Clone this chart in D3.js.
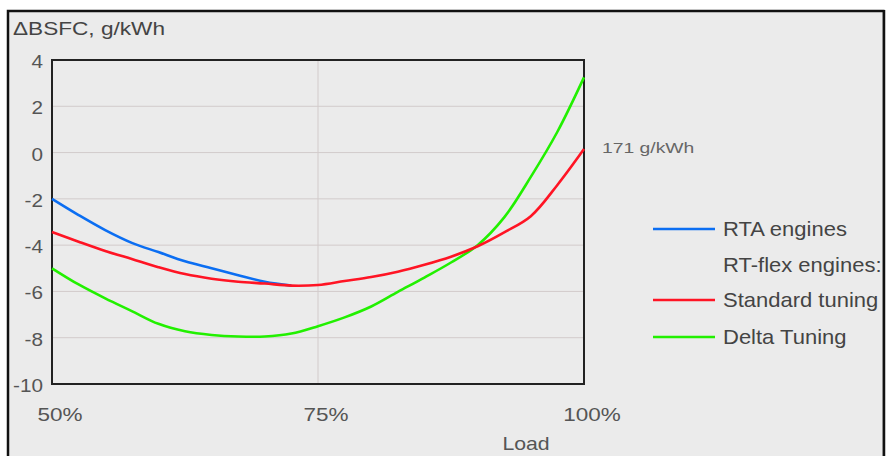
<!DOCTYPE html>
<html>
<head>
<meta charset="utf-8">
<script src="https://cdn.jsdelivr.net/npm/d3@7"></script>
<style>
  body { margin: 0; background: #fff; }
  svg { display: block; font-family: "Liberation Sans", Arial, sans-serif; }
</style>
</head>
<body>
<script>
    //data (load in %, delta BSFC in g/kWh)
    var loads = [50, 52.5, 55, 57.5, 60, 62.5, 65, 67.5, 70, 72.5, 75, 77.5, 80, 82.5, 85, 87.5, 90, 92.5, 95, 97.5, 100];
    var rtaLoads = [50, 52.5, 55, 57.5, 60, 62.5, 65, 67.5, 70, 72.5];
    var rtaValues = [-2.0, -2.7, -3.35, -3.9, -4.3, -4.7, -5.0, -5.3, -5.58, -5.75];
    var standardValues = [-3.43, -3.85, -4.25, -4.6, -4.95, -5.25, -5.45, -5.58, -5.66, -5.75, -5.72, -5.55, -5.38, -5.15, -4.85, -4.5, -4.05, -3.45, -2.75, -1.4, 0.15];
    var deltaValues = [-5.0, -5.7, -6.3, -6.85, -7.4, -7.72, -7.88, -7.95, -7.95, -7.82, -7.5, -7.12, -6.65, -6.02, -5.4, -4.75, -4.0, -2.8, -1.05, 0.9, 3.25];
    var yTicks = [4, 2, 0, -2, -4, -6, -8, -10];
    var xTicks = [50, 75, 100];
    var legendItems = [
        {label: "RTA engines", color: "#0b6ef2"},
        {label: "RT-flex engines:", color: null},
        {label: "Standard tuning", color: "#ff1424"},
        {label: "Delta Tuning", color: "#22f000"}
    ];

    setChart();

    //text in the scan is stretched sideways, so scale it a bit
    function stretched(sel, px, py, sx){
        return sel.attr("transform", function(d, i){
            var xx = typeof px === "function" ? px(d, i) : px,
                yy = typeof py === "function" ? py(d, i) : py;
            return "translate(" + xx + "," + yy + ") scale(" + sx + ",1)";
        });
    }

    function setChart(){
        var width = 886,
            height = 456;

        var svg = d3.select("body")
            .append("svg")
            .attr("width", width)
            .attr("height", height);

        //grey panel with the black frame
        svg.append("rect")
            .attr("x", 8).attr("y", 11)
            .attr("width", 876).attr("height", 460)
            .attr("fill", "#ebebeb")
            .attr("stroke", "#111")
            .attr("stroke-width", 2.5);

        var x = d3.scaleLinear().domain([50, 100]).range([52, 584]);
        var y = d3.scaleLinear().domain([-10, 4]).range([384, 60]);

        //gridlines
        svg.append("g")
            .selectAll("line")
            .data(yTicks.slice(1, -1))
            .enter().append("line")
            .attr("x1", x(50)).attr("x2", x(100))
            .attr("y1", function(d){ return y(d); })
            .attr("y2", function(d){ return y(d); })
            .attr("stroke", "#d2cbcb")
            .attr("stroke-width", 1);

        svg.append("line")
            .attr("x1", x(75)).attr("x2", x(75))
            .attr("y1", y(4)).attr("y2", y(-10))
            .attr("stroke", "#d2cbcb")
            .attr("stroke-width", 1);

        //plot frame
        svg.append("rect")
            .attr("x", x(50)).attr("y", y(4))
            .attr("width", x(100) - x(50))
            .attr("height", y(-10) - y(4))
            .attr("fill", "none")
            .attr("stroke", "#222")
            .attr("stroke-width", 2);

        //y axis labels
        var yLabels = svg.append("g")
            .selectAll("text")
            .data(yTicks)
            .enter().append("text")
            .attr("text-anchor", "end")
            .attr("font-size", 18)
            .attr("fill", "#555")
            .text(function(d){ return d; });
        stretched(yLabels, 43, function(d){ return y(d) + 8; }, 1.15);

        //x axis labels
        var xLabels = svg.append("g")
            .selectAll("text")
            .data(xTicks)
            .enter().append("text")
            .attr("text-anchor", "middle")
            .attr("font-size", 18)
            .attr("fill", "#555")
            .text(function(d){ return d + "%"; });
        stretched(xLabels, function(d){ return x(d) + 8; }, 421, 1.25);

        stretched(svg.append("text")
            .attr("text-anchor", "middle")
            .attr("font-size", 18)
            .attr("fill", "#555")
            .text("Load"), 526, 450, 1.18);

        stretched(svg.append("text")
            .attr("font-size", 19)
            .attr("fill", "#444")
            .text("ΔBSFC, g/kWh"), 13, 35, 1.19);

        stretched(svg.append("text")
            .attr("font-size", 14)
            .attr("fill", "#666")
            .text("171 g/kWh"), 602, 153, 1.38);

        //curves
        var line = d3.line()
            .x(function(d){ return x(d[0]); })
            .y(function(d){ return y(d[1]); })
            .curve(d3.curveCatmullRom);

        var series = [
            {load: rtaLoads, values: rtaValues, color: legendItems[0].color},
            {load: loads, values: deltaValues, color: legendItems[3].color},
            {load: loads, values: standardValues, color: legendItems[2].color}
        ];

        svg.append("g")
            .selectAll("path")
            .data(series)
            .enter().append("path")
            .attr("d", function(s){ return line(d3.zip(s.load, s.values)); })
            .attr("fill", "none")
            .attr("stroke", function(s){ return s.color; })
            .attr("stroke-width", 2.6);

        //legend
        var legend = svg.append("g")
            .selectAll("g")
            .data(legendItems)
            .enter().append("g")
            .attr("transform", function(d, i){ return "translate(0," + [229, 265, 300, 337][i] + ")"; });

        legend.filter(function(d){ return d.color; })
            .append("line")
            .attr("x1", 653).attr("x2", 715)
            .attr("stroke", function(d){ return d.color; })
            .attr("stroke-width", 2.6);

        stretched(legend.append("text")
            .attr("font-size", 20)
            .attr("fill", "#444")
            .text(function(d){ return d.label; }), 723, 7, 1.1);

        //frame covers the legend text that runs off the panel
        svg.append("rect")
            .attr("x", 884.5).attr("y", 0)
            .attr("width", 10).attr("height", height)
            .attr("fill", "#fff");
        svg.append("line")
            .attr("x1", 884).attr("x2", 884)
            .attr("y1", 10).attr("y2", height)
            .attr("stroke", "#111")
            .attr("stroke-width", 2.5);
    }
</script>
</body>
</html>
